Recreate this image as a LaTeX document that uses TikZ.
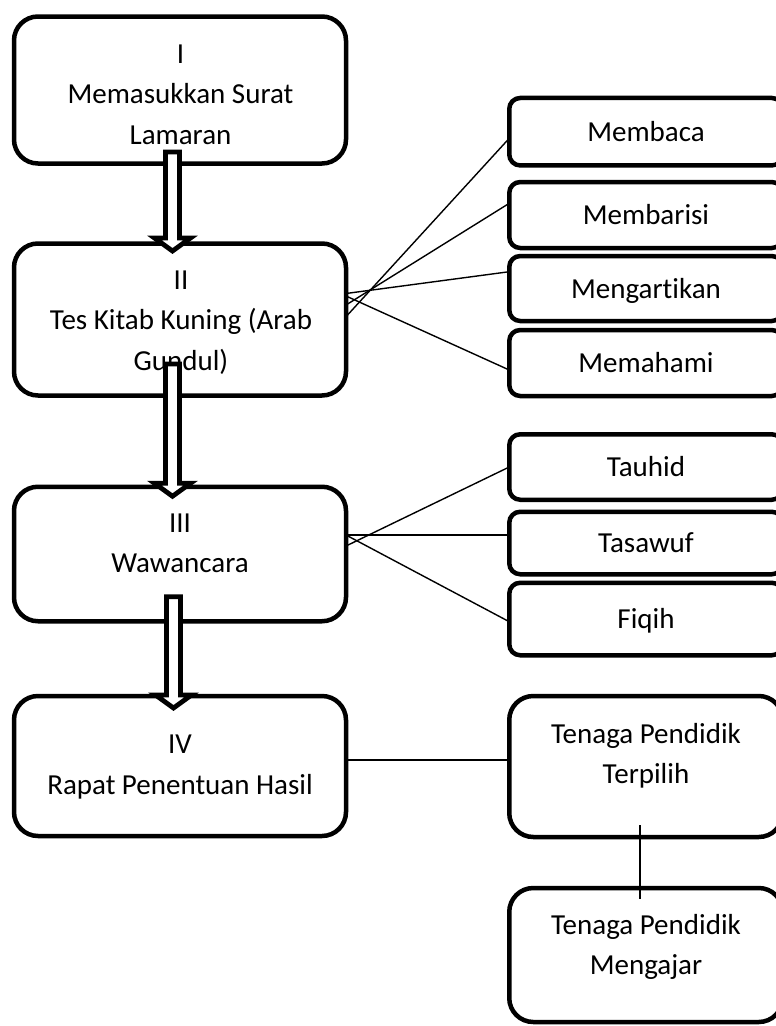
\documentclass[tikz,border=0pt]{standalone}
\usepackage{fontspec}
\setmainfont{Carlito}[Ligatures=NoCommon]
\usetikzlibrary{calc}

\begin{document}
\begin{tikzpicture}[x=1pt,y=-1pt,
	txt/.style={align=center,font=\fontsize{29pt}{40.5pt}\selectfont,inner sep=0pt},
	bigbox/.style={draw,line width=4.5pt,rounded corners=24pt,minimum width=332pt,inner sep=0pt,outer sep=0pt},
	smallbox/.style={draw,line width=4.5pt,rounded corners=11pt,minimum width=273.5pt,inner sep=0pt,outer sep=0pt,
		font=\fontsize{29pt}{40.5pt}\selectfont,text height=19pt,text depth=0pt},
	link/.style={line width=1.4pt},
	blockarrow/.style={draw,fill=white,line width=4.8pt,line join=miter}]
	\clip (0,0) rectangle (776,1026);
	\node[bigbox,minimum height=147pt] (lamaran) at (180,90) {};
	\node[bigbox,minimum height=152pt] (tes) at (180,319.5) {};
	\node[bigbox,minimum height=134.5pt] (wawancara) at (180,554) {};
	\node[bigbox,minimum height=140pt] (rapat) at (180,766) {};
	\node[txt] (lamaranlbl) at (180.5,94.7) {I\\Memasukkan Surat\\Lamaran};
	\node[txt] (teslbl) at (181,322.5) {II\\Tes Kitab Kuning (Arab\\Gundul)};
	\node[txt] (wawancaralbl) at (180,543.3) {III\\Wawancara};
	\node[txt] (rapatlbl) at (180,767) {IV\\Rapat Penentuan Hasil};
	\node[smallbox,minimum height=67.5pt] (membaca) at (646,131.7) {Membaca};
	\node[smallbox,minimum height=66pt] (membarisi) at (646,215) {Membarisi};
	\node[smallbox,minimum height=65pt] (mengartikan) at (646,288.5) {Mengartikan};
	\node[smallbox,minimum height=66pt] (memahami) at (646,363) {Memahami};
	\node[smallbox,minimum height=65.5pt] (tauhid) at (646,467) {Tauhid};
	\node[smallbox,minimum height=62.5pt] (tasawuf) at (646,543) {Tasawuf};
	\node[smallbox,minimum height=72.5pt] (fiqih) at (646,619) {Fiqih};
	\node[bigbox,minimum width=273.5pt,minimum height=141pt] (terpilih) at (646,766.5) {};
	\node[bigbox,minimum width=273.5pt,minimum height=134pt] (mengajar) at (646,955) {};
	\node[txt] (terpilihlbl) at (646,756) {Tenaga Pendidik\\Terpilih};
	\node[txt] (mengajarlbl) at (646,947) {Tenaga Pendidik\\Mengajar};
	\draw[link] ([yshift=2.8pt]tes.east) -- ([yshift=-6.6pt]membaca.west);
	\draw[link] ([yshift=14.5pt]tes.east) -- ([yshift=11.7pt]membarisi.west);
	\draw[link] ([yshift=26pt]tes.east) -- ([yshift=16.8pt]mengartikan.west);
	\draw[link] ([yshift=23.5pt]tes.east) -- ([yshift=-7pt]memahami.west);
	\draw[link] ([yshift=8pt]wawancara.east) -- (tauhid.west);
	\draw[link] ([yshift=19pt]wawancara.east) -- ([yshift=8pt]tasawuf.west);
	\draw[link] ([yshift=19pt]wawancara.east) -- ([yshift=-2.7pt]fiqih.west);
	\draw[link] ([yshift=6pt]rapat.east) -- ([yshift=6.5pt]terpilih.west);
	\draw[link] ([xshift=-6pt,yshift=12pt]terpilih.south) -- ([xshift=-6pt,yshift=-11pt]mengajar.north);
	\coordinate (a1) at ([xshift=-7.5pt,yshift=11.5pt]lamaran.south);
	\coordinate (a2) at ([xshift=-7.5pt,yshift=-7.5pt]tes.north);
	\coordinate (b1) at ([xshift=-7.5pt,yshift=31.5pt]tes.south);
	\coordinate (b2) at ([xshift=-7.5pt,yshift=-9.5pt]wawancara.north);
	\coordinate (c1) at ([xshift=-6.5pt,yshift=24.5pt]wawancara.south);
	\coordinate (c2) at ([xshift=-6.5pt,yshift=-12pt]rapat.north);
	\draw[blockarrow] ($(a1)+(-7,0)$) -- ($(a2)+(-7,-13)$) -- ($(a2)+(-18,-13)$) -- (a2) -- ($(a2)+(18,-13)$) -- ($(a2)+(7,-13)$) -- ($(a1)+(7,0)$) -- cycle;
	\draw[blockarrow] ($(b1)+(-7,0)$) -- ($(b2)+(-7,-13)$) -- ($(b2)+(-18,-13)$) -- (b2) -- ($(b2)+(18,-13)$) -- ($(b2)+(7,-13)$) -- ($(b1)+(7,0)$) -- cycle;
	\draw[blockarrow] ($(c1)+(-7,0)$) -- ($(c2)+(-7,-13)$) -- ($(c2)+(-18,-13)$) -- (c2) -- ($(c2)+(18,-13)$) -- ($(c2)+(7,-13)$) -- ($(c1)+(7,0)$) -- cycle;
\end{tikzpicture}
\end{document}
